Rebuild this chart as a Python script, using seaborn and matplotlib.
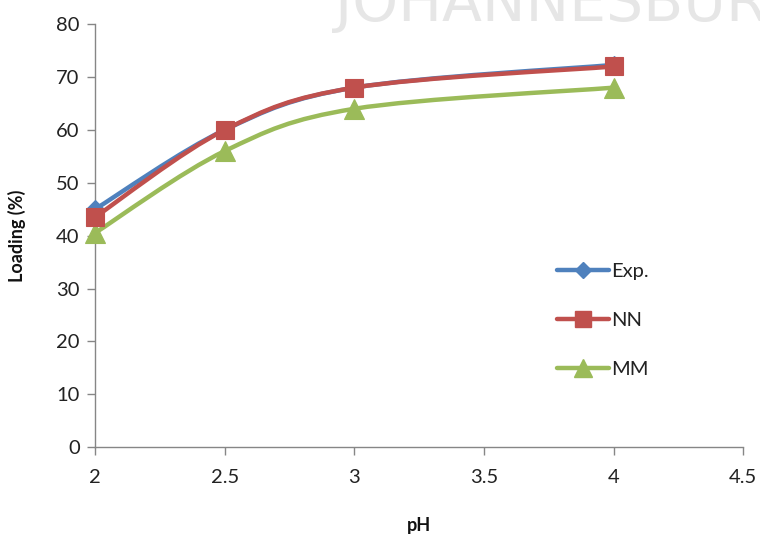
import numpy as np
import pandas as pd
import matplotlib
matplotlib.use("Agg")
import matplotlib.pyplot as plt
from matplotlib.path import Path
from matplotlib.patches import PathPatch
from matplotlib.lines import Line2D
import seaborn as sns

# Loading (%) versus pH: experiment and two model predictions
ph = [2.0, 2.5, 3.0, 4.0]
exp_loading = [45.0, 60.0, 68.0, 72.3]
nn_loading = [43.5, 60.0, 68.0, 72.0]
mm_loading = [40.5, 56.0, 64.0, 68.0]
series_names = ["Exp.", "NN", "MM"]
x_ticks = [2, 2.5, 3, 3.5, 4, 4.5]
y_ticks = [0, 10, 20, 30, 40, 50, 60, 70, 80]

colors = {"Exp.": "#4F81BD", "NN": "#C0504D", "MM": "#9BBB59"}
markers = {"Exp.": "D", "NN": "s", "MM": "^"}
msizes = {"Exp.": 9, "NN": 13, "MM": 15}

df = pd.DataFrame({
    "pH": ph * 3,
    "Loading": exp_loading + nn_loading + mm_loading,
    "Series": [n for n in series_names for _ in ph],
})

sns.set_theme(style="white")
plt.rcParams["font.family"] = ["Lato", "DejaVu Sans"]

fig = plt.figure(figsize=(7.6, 5.38), dpi=100)
ax = fig.add_axes([0.125, 0.169, 0.853, 0.786])


def smooth_path(xs, ys):
    """Cubic Bezier path through the points (spreadsheet-style smoothed line)."""
    pts = np.column_stack([xs, ys]).astype(float)
    n = len(pts)
    verts = [pts[0]]
    codes = [Path.MOVETO]
    for i in range(n - 1):
        p0 = pts[i - 1] if i > 0 else pts[i]
        p1 = pts[i]
        p2 = pts[i + 1]
        p3 = pts[i + 2] if i + 2 < n else pts[i + 1]
        c1 = p1 + (p2 - p0) / 6.0
        c2 = p2 - (p3 - p1) / 6.0
        verts += [c1, c2, p2]
        codes += [Path.CURVE4] * 3
    return Path(verts, codes)


# Draw MM first so Exp./NN sit on top, then NN above Exp.
for z, name in zip([2, 3, 4], ["MM", "Exp.", "NN"]):
    sub = df[df["Series"] == name]
    patch = PathPatch(smooth_path(sub["pH"].values, sub["Loading"].values),
                      facecolor="none", edgecolor=colors[name], lw=3.2,
                      capstyle="round", joinstyle="round", zorder=z,
                      clip_on=False)
    ax.add_patch(patch)
    sns.lineplot(data=sub, x="pH", y="Loading", ax=ax, linestyle="none",
                 marker=markers[name], markersize=msizes[name],
                 color=colors[name], markeredgecolor=colors[name],
                 markeredgewidth=0.8, zorder=z + 0.5, legend=False)

for ln in ax.lines:
    ln.set_clip_on(False)

ax.set_xlim(2, 4.5)
ax.set_ylim(0, 80)
ax.set_xticks(x_ticks)
ax.set_xticklabels([f"{t:g}" for t in x_ticks])
ax.set_yticks(y_ticks)

for side in ["top", "right"]:
    ax.spines[side].set_visible(False)
for side in ["left", "bottom"]:
    ax.spines[side].set_color("#868686")
    ax.spines[side].set_linewidth(1.0)
    ax.spines[side].set_zorder(1)
ax.tick_params(axis="both", which="major", direction="out", length=6,
               width=1.0, color="#868686", labelsize=14.5, labelcolor="#222222",
               left=True, bottom=True)
ax.tick_params(axis="x", pad=10)
ax.tick_params(axis="y", pad=5)

ax.set_xlabel("pH", fontsize=13, fontweight="bold", color="#111111", labelpad=22)
ax.set_ylabel("Loading (%)", fontsize=13, fontweight="bold", color="#111111", labelpad=22)

handles = [Line2D([0], [0], color=colors[n], lw=3.2, marker=markers[n],
                  markersize=msizes[n] * 0.9, markeredgecolor=colors[n],
                  solid_capstyle="round") for n in series_names]
leg = ax.legend(handles, series_names, loc="upper left",
                bbox_to_anchor=(0.7, 0.455), frameon=False, fontsize=14.5,
                handlelength=2.6, handletextpad=0.1, labelspacing=1.6,
                borderaxespad=0)
for t in leg.get_texts():
    t.set_color("#222222")

# Faint banner lettering across the top edge
fig.text(335 / 760, 1 - 21 / 538, "JOHANNESBUR", fontsize=42, color="#e6e6e6",
         family=["DejaVu Sans"], ha="left", va="baseline", zorder=0)

fig.savefig("out.png", dpi=100, facecolor="white")
